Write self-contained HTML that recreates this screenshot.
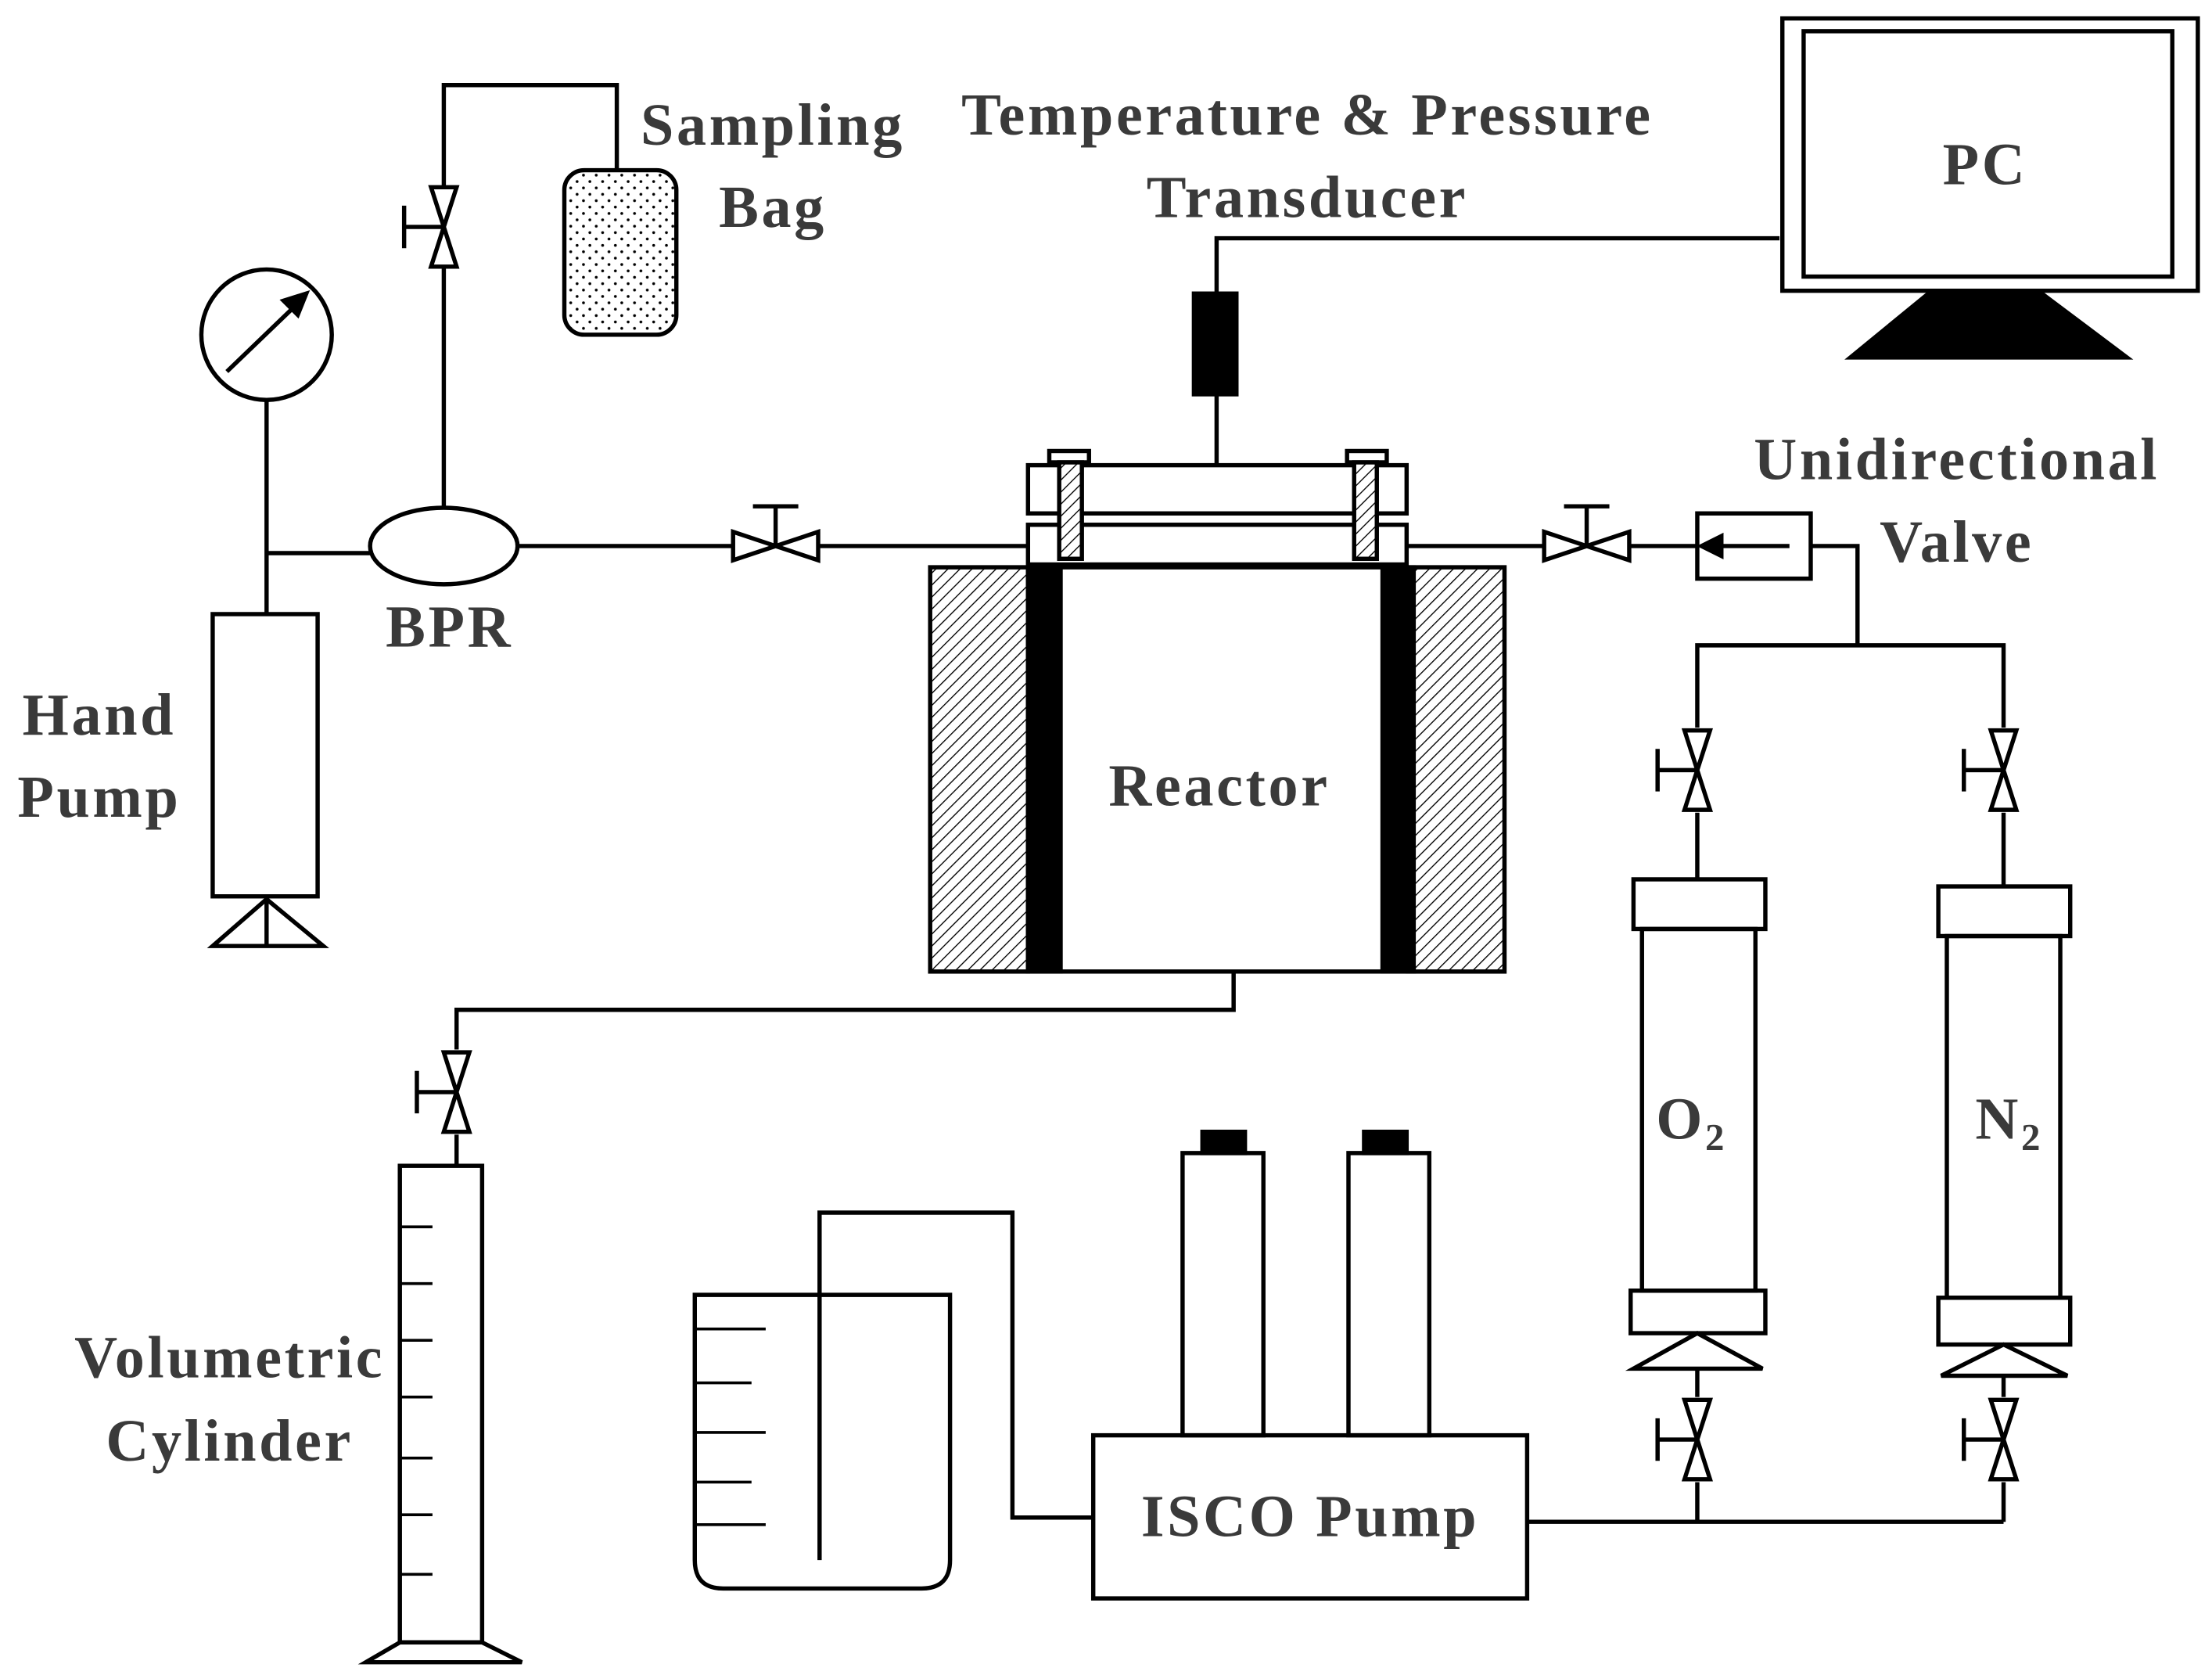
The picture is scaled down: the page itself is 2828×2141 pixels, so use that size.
<!DOCTYPE html>
<html><head><meta charset="utf-8"><style>
html,body{margin:0;padding:0;background:#fff;}
svg{display:block;}
text{font-family:"Liberation Serif",serif;font-weight:bold;fill:#3a3a3a;font-size:42px;letter-spacing:2px;text-anchor:middle;}
</style></head><body>
<svg width="2828" height="2141" viewBox="0 0 1560 1181" preserveAspectRatio="none" xmlns="http://www.w3.org/2000/svg">
<defs>
<pattern id="hatch" width="6" height="6" patternUnits="userSpaceOnUse" patternTransform="rotate(45)">
<rect width="6" height="6" fill="#fff"/><line x1="0" y1="0" x2="0" y2="6" stroke="#000" stroke-width="1.5"/></pattern>
<pattern id="dots" width="9" height="9" patternUnits="userSpaceOnUse">
<rect width="9" height="9" fill="#fff"/><circle cx="2" cy="2" r="1" fill="#000"/><circle cx="6.5" cy="6.5" r="1" fill="#000"/></pattern>
<g id="vv">
<path d="M-9,-28 L9,-28 L0,0 Z M-9,28 L9,28 L0,0 Z" fill="#fff" stroke="#000" stroke-width="3"/>
<line x1="0" y1="0" x2="-28" y2="0" stroke="#000" stroke-width="3"/>
<line x1="-28" y1="-15" x2="-28" y2="15" stroke="#000" stroke-width="3"/></g>
<g id="hv">
<path d="M-30,-10 L-30,10 L0,0 Z M30,-10 L30,10 L0,0 Z" fill="#fff" stroke="#000" stroke-width="3"/>
<line x1="0" y1="0" x2="0" y2="-28" stroke="#000" stroke-width="3"/>
<line x1="-16" y1="-28" x2="16" y2="-28" stroke="#000" stroke-width="3"/></g>
</defs>
<g fill="none" stroke="#000" stroke-width="3">
<circle cx="188" cy="236" r="46"/>
<line x1="160" y1="262" x2="212" y2="212"/>
<path d="M216,207 L200,212 L210,222 Z" fill="#000"/>
<line x1="188" y1="282" x2="188" y2="433"/>
<line x1="188" y1="390" x2="262" y2="390"/>
<rect x="150" y="433" width="74" height="199"/>
<path d="M150,667 L228,667 L188,634 Z"/>
<line x1="188" y1="632" x2="188" y2="667"/>
<ellipse cx="313" cy="385" rx="52" ry="27" fill="#fff"/>
<path d="M313,358 L313,60 L435,60 L435,120"/>
<rect x="398" y="120" width="79" height="116" rx="14" fill="url(#dots)"/>
<line x1="366" y1="385" x2="725" y2="385"/>
<rect x="656" y="400" width="405" height="285"/>
<rect x="656" y="400" width="69" height="285" fill="url(#hatch)"/>
<rect x="993" y="400" width="68" height="285" fill="url(#hatch)"/>
<rect x="725" y="400" width="23" height="285" fill="#000"/>
<rect x="975" y="400" width="22" height="285" fill="#000"/>
<rect x="725" y="328" width="267" height="34" fill="#fff"/>
<rect x="725" y="370" width="267" height="28" fill="#fff"/>
<rect x="740" y="318" width="28" height="8" fill="#fff"/>
<rect x="747" y="326" width="16" height="68" fill="url(#hatch)"/>
<rect x="950" y="318" width="28" height="8" fill="#fff"/>
<rect x="955" y="326" width="16" height="68" fill="url(#hatch)"/>
<path d="M858,328 L858,168 L1255,168"/>
<rect x="842" y="207" width="30" height="71" fill="#000"/>
<rect x="1257" y="13" width="293" height="192"/>
<rect x="1272" y="22" width="260" height="173"/>
<path d="M1360,207 L1440,207 L1500,252 L1305,252 Z" fill="#000"/>
<line x1="992" y1="385" x2="1197" y2="385"/>
<rect x="1197" y="362" width="80" height="46"/>
<line x1="1210" y1="385" x2="1262" y2="385"/>
<path d="M1200,385 L1214,378 L1214,392 Z" fill="#000"/>
<path d="M1277,385 L1310,385 L1310,455"/>
<path d="M1197,513 L1197,455 L1413,455 L1413,513"/>
<line x1="1197" y1="573" x2="1197" y2="620"/>
<line x1="1413" y1="573" x2="1413" y2="625"/>
<rect x="1152" y="620" width="93" height="35"/>
<rect x="1158" y="655" width="80" height="255"/>
<rect x="1150" y="910" width="95" height="30"/>
<path d="M1152,965 L1243,965 L1197,940 Z"/>
<line x1="1197" y1="965" x2="1197" y2="985"/>
<line x1="1197" y1="1045" x2="1197" y2="1073"/>
<rect x="1367" y="625" width="93" height="35"/>
<rect x="1373" y="660" width="80" height="255"/>
<rect x="1367" y="915" width="93" height="33"/>
<path d="M1369,970 L1458,970 L1413,948 Z"/>
<line x1="1413" y1="970" x2="1413" y2="985"/>
<line x1="1413" y1="1045" x2="1413" y2="1073"/>
<line x1="1077" y1="1073" x2="1413" y2="1073"/>
<rect x="771" y="1012" width="306" height="115"/>
<rect x="834" y="813" width="57" height="199"/>
<rect x="848" y="798" width="30" height="15" fill="#000"/>
<rect x="951" y="813" width="57" height="199"/>
<rect x="962" y="798" width="30" height="15" fill="#000"/>
<path d="M490,913 L490,1100 Q490,1120 510,1120 L650,1120 Q670,1120 670,1100 L670,913 Z"/>
<g stroke-width="2"><line x1="490" y1="937" x2="540" y2="937"/><line x1="490" y1="975" x2="530" y2="975"/><line x1="490" y1="1010" x2="540" y2="1010"/><line x1="490" y1="1045" x2="530" y2="1045"/><line x1="490" y1="1075" x2="540" y2="1075"/></g>
<path d="M578,1100 L578,855 L714,855 L714,1070 L771,1070"/>
<path d="M870,685 L870,712 L322,712 L322,740"/>
<line x1="322" y1="800" x2="322" y2="822"/>
<rect x="282" y="822" width="58" height="336"/>
<g stroke-width="2"><line x1="282" y1="865" x2="305" y2="865"/><line x1="282" y1="905" x2="305" y2="905"/><line x1="282" y1="945" x2="305" y2="945"/><line x1="282" y1="985" x2="305" y2="985"/><line x1="282" y1="1028" x2="305" y2="1028"/><line x1="282" y1="1068" x2="305" y2="1068"/><line x1="282" y1="1110" x2="305" y2="1110"/></g>
<path d="M282,1158 L340,1158 L368,1172 L258,1172 Z"/>
</g>
<use href="#vv" x="313" y="160"/>
<use href="#hv" x="547" y="385"/>
<use href="#hv" x="1119" y="385"/>
<use href="#vv" x="1197" y="543"/>
<use href="#vv" x="1413" y="543"/>
<use href="#vv" x="1197" y="1015"/>
<use href="#vv" x="1413" y="1015"/>
<use href="#vv" x="322" y="770"/>
<text x="545" y="102">Sampling</text>
<text x="545" y="160">Bag</text>
<text x="922" y="95">Temperature &amp; Pressure</text>
<text x="922" y="153">Transducer</text>
<text x="1400" y="130">PC</text>
<text x="1380" y="338">Unidirectional</text>
<text x="1380" y="396">Valve</text>
<text x="860" y="568">Reactor</text>
<text x="317" y="456">BPR</text>
<text x="70" y="518">Hand</text>
<text x="70" y="576">Pump</text>
<text x="162" y="971">Volumetric</text>
<text x="162" y="1030">Cylinder</text>
<text x="924" y="1083">ISCO Pump</text>
<text x="1193" y="803">O<tspan font-size="27" dy="8">2</tspan></text>
<text x="1417" y="803">N<tspan font-size="27" dy="8">2</tspan></text>
</svg>
</body></html>
